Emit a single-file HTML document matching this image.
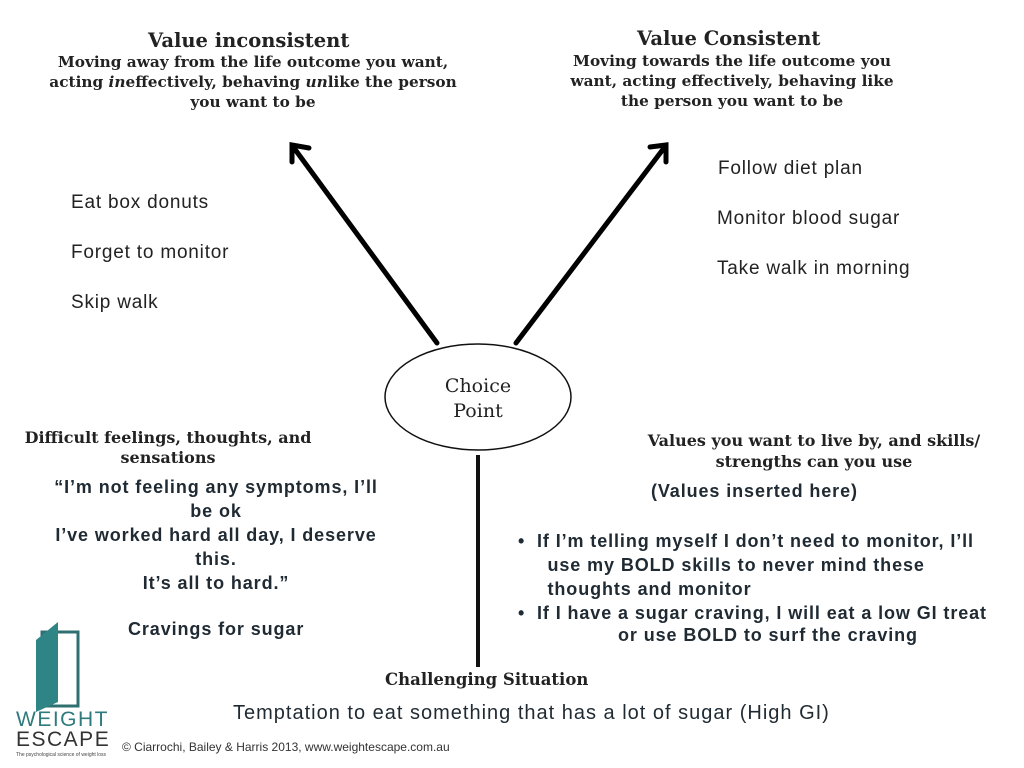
<!DOCTYPE html>
<html><head><meta charset="utf-8"><style>
body{margin:0;width:1024px;height:768px;background:#fff;position:relative;overflow:hidden;font-family:"Liberation Sans",sans-serif;color:#1a1a1a}
.a{position:absolute;white-space:nowrap}
.s{font-family:"DejaVu Serif",serif;font-weight:bold;color:#222}
.t{font-size:19px;color:#222;letter-spacing:0.8px}
.b{font-size:18px;font-weight:bold;color:#1f2a33;letter-spacing:0.9px}
</style></head><body>
<svg class="a" style="left:0;top:0" width="1024" height="768">
<g stroke="#000" stroke-width="5" fill="none" stroke-linecap="round">
<line x1="437" y1="343" x2="294" y2="148"/>
<polyline points="292,162 292,145 309,148"/>
<line x1="516" y1="343" x2="664" y2="148"/>
<polyline points="650,147 666,145 666,162"/>
</g>
<line x1="478" y1="455" x2="478" y2="667" stroke="#111" stroke-width="4"/>
<ellipse cx="478" cy="397" rx="93" ry="53" fill="#fff" stroke="#111" stroke-width="1.5"/>
<rect x="42" y="632" width="36" height="74" fill="#fff" stroke="#2f6f70" stroke-width="3"/>
<polygon points="36,640 58,622 58,702 36,712" fill="#2f8585"/>
</svg>
<div class="a s" style="left:148px;top:29px;font-size:19.5px">Value inconsistent</div>
<div class="a s" style="left:18px;top:52px;font-size:15.3px;text-align:center;width:470px;line-height:20px">Moving away from the life outcome you want,<br>acting <i>in</i>effectively, behaving <i>un</i>like the person<br>you want to be</div>
<div class="a s" style="left:637px;top:27px;font-size:19.5px">Value Consistent</div>
<div class="a s" style="left:532px;top:51px;font-size:15.3px;text-align:center;width:400px;line-height:20px">Moving towards the life outcome you<br>want, acting effectively, behaving like<br>the person you want to be</div>
<div class="a t" style="left:718px;top:158px">Follow diet plan</div>
<div class="a t" style="left:717px;top:208px">Monitor blood sugar</div>
<div class="a t" style="left:717px;top:258px">Take walk in morning</div>
<div class="a t" style="left:71px;top:192px">Eat box donuts</div>
<div class="a t" style="left:71px;top:242px">Forget to monitor</div>
<div class="a t" style="left:71px;top:292px">Skip walk</div>
<div class="a s" style="left:428px;top:374px;font-size:19px;font-weight:normal;text-align:center;width:100px;line-height:25px">Choice<br>Point</div>
<div class="a s" style="left:0px;top:428px;font-size:16px;text-align:center;width:336px;line-height:20px">Difficult feelings, thoughts, and<br>sensations</div>
<div class="a s" style="left:614px;top:430px;font-size:16px;text-align:center;width:400px;line-height:21px">Values you want to live by, and skills/<br>strengths can you use</div>
<div class="a b" style="left:28px;top:475px;width:376px;text-align:center;line-height:24px">“I’m not feeling any symptoms, I’ll<br>be ok<br>I’ve worked hard all day, I deserve<br>this.<br>It’s all to hard.”</div>
<div class="a b" style="left:128px;top:619px">Cravings for sugar</div>
<div class="a b" style="left:651px;top:481px">(Values inserted here)</div>
<div class="a b" style="left:518px;top:529px;line-height:24px">•&nbsp;&nbsp;If I’m telling myself I don’t need to monitor, I’ll<br>&nbsp;&nbsp;&nbsp;&nbsp;&nbsp;use my BOLD skills to never mind these<br>&nbsp;&nbsp;&nbsp;&nbsp;&nbsp;thoughts and monitor<br>•&nbsp;&nbsp;If I have a sugar craving, I will eat a low GI treat</div>
<div class="a b" style="left:618px;top:625px">or use BOLD to surf the craving</div>
<div class="a s" style="left:385px;top:670px;font-size:16.5px">Challenging Situation</div>
<div class="a" style="left:233px;top:702px;font-size:20px;color:#1f2a33;letter-spacing:1px">Temptation to eat something that has a lot of sugar (High GI)</div>
<div class="a" style="left:122px;top:740px;font-size:12px;color:#333">© Ciarrochi, Bailey &amp; Harris 2013, www.weightescape.com.au</div>
<div class="a" style="left:16px;top:708px;font-size:21px;color:#2f7a7c;letter-spacing:1.5px">WEIGHT</div>
<div class="a" style="left:16px;top:728px;font-size:21px;color:#333;letter-spacing:1.5px">ESCAPE</div>
<div class="a" style="left:16px;top:752px;font-size:5px;color:#444">The psychological science of weight loss</div>
</body></html>
